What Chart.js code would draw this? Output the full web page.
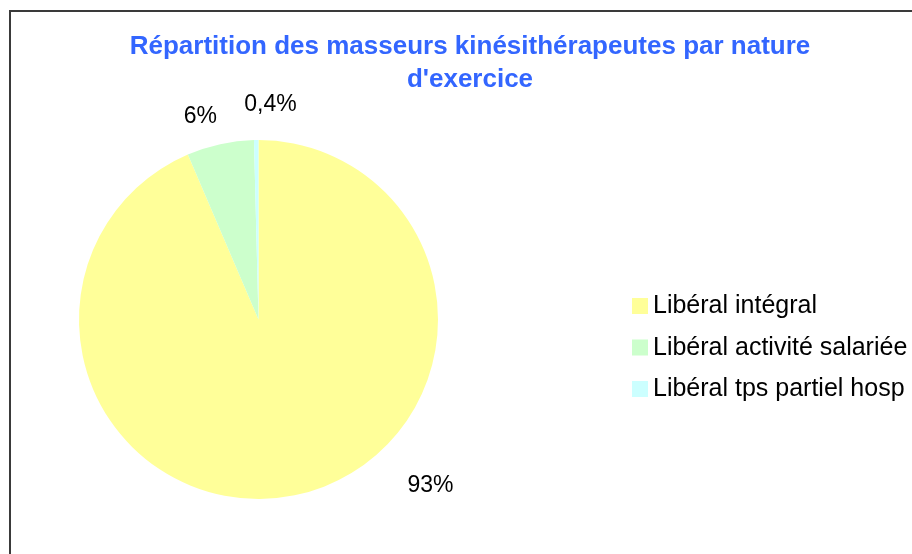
<!DOCTYPE html>
<html lang="fr">
<head>
<meta charset="utf-8">
<title>Répartition des masseurs kinésithérapeutes par nature d'exercice</title>
<script src="https://cdn.jsdelivr.net/npm/chart.js@4/dist/chart.umd.min.js"></script>
<style>
  html, body { margin: 0; padding: 0; background: #ffffff; }
  #wrap { width: 912px; height: 554px; position: relative; overflow: hidden; }
  canvas { display: block; }
</style>
</head>
<body>
<div id="wrap"><canvas id="chart" width="912" height="554"></canvas></div>
<script>
// Categories and shares (%)
const categories = ["Libéral intégral", "Libéral activité salariée", "Libéral tps partiel hosp"];
const shares = [93, 6, 0.4];
const sliceColors = ["#FFFF99", "#CCFFCC", "#CCFFFF"];
const titleLines = ["Répartition des masseurs kinésithérapeutes par nature", "d'exercice"];

const FONT = "'Liberation Sans', Arial, sans-serif";

// Outer frame of the chart
const framePlugin = {
  id: 'frame',
  beforeDraw(chart) {
    const ctx = chart.ctx;
    ctx.save();
    ctx.strokeStyle = '#3a3a3a';
    ctx.lineWidth = 2;
    ctx.strokeRect(10, 11, chart.width + 40, chart.height + 40);
    ctx.restore();
  }
};

// Two-line title
const titlePlugin = {
  id: 'twoLineTitle',
  afterDraw(chart, args, opts) {
    const ctx = chart.ctx;
    ctx.save();
    ctx.fillStyle = opts.color;
    ctx.font = 'bold ' + opts.size + 'px ' + FONT;
    ctx.textAlign = 'center';
    ctx.textBaseline = 'alphabetic';
    titleLines.forEach((line, i) => {
      ctx.fillText(line, opts.x, opts.y + i * opts.lineHeight);
    });
    ctx.restore();
  }
};

// Percentage labels placed around the pie
const pctLabelPlugin = {
  id: 'pctLabels',
  afterDatasetsDraw(chart, args, opts) {
    const ctx = chart.ctx;
    const meta = chart.getDatasetMeta(0);
    ctx.save();
    ctx.fillStyle = '#000';
    ctx.font = opts.size + 'px ' + FONT;
    ctx.textAlign = 'center';
    ctx.textBaseline = 'middle';
    meta.data.forEach((arc, i) => {
      const p = opts.placement[i];
      const a = p.angle * Math.PI / 180;
      const x = arc.x + Math.sin(a) * p.dist;
      const y = arc.y - Math.cos(a) * p.dist;
      const txt = shares[i].toLocaleString('fr-FR') + '%';
      ctx.fillText(txt, x, y);
    });
    ctx.restore();
  }
};

// Legend at the right of the pie
const sideLegendPlugin = {
  id: 'sideLegend',
  afterDraw(chart, args, opts) {
    const ctx = chart.ctx;
    ctx.save();
    ctx.font = opts.size + 'px ' + FONT;
    ctx.textBaseline = 'alphabetic';
    ctx.textAlign = 'left';
    chart.data.labels.forEach((label, i) => {
      const top = opts.top + i * opts.rowGap;
      ctx.fillStyle = chart.data.datasets[0].backgroundColor[i];
      ctx.fillRect(opts.x, top, opts.box, opts.box);
      ctx.fillStyle = '#000';
      ctx.fillText(label, opts.x + opts.box + 5, top + opts.box - 1);
    });
    ctx.restore();
  }
};

new Chart(document.getElementById('chart'), {
  type: 'pie',
  data: {
    labels: categories,
    datasets: [{
      data: shares,
      backgroundColor: sliceColors,
      borderWidth: 0,
      hoverOffset: 0
    }]
  },
  options: {
    responsive: false,
    devicePixelRatio: 1,
    animation: false,
    layout: { padding: { left: 79, right: 474, top: 140, bottom: 55 } },
    plugins: {
      legend: { display: false },
      title: { display: false },
      tooltip: { enabled: false },
      twoLineTitle: { x: 470, y: 54, lineHeight: 33, size: 26, color: '#3366FF' },
      pctLabels: {
        size: 23,
        placement: [
          { angle: 134, dist: 239 },
          { angle: 344, dist: 211 },
          { angle: 3.2, dist: 215 }
        ]
      },
      sideLegend: { x: 632, top: 298, rowGap: 41.5, box: 16, size: 25 }
    }
  },
  plugins: [framePlugin, titlePlugin, pctLabelPlugin, sideLegendPlugin]
});
</script>
</body>
</html>
